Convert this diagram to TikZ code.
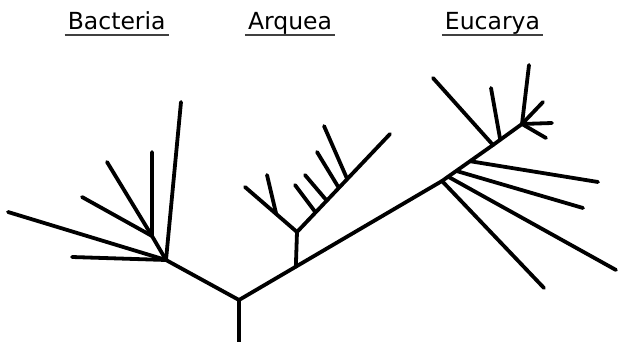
\documentclass[tikz,border=0pt]{standalone}
\usepackage{fontspec}
\setmainfont{DejaVu Sans}
\usetikzlibrary{calc}
\begin{document}
\begin{tikzpicture}[x=1pt,y=-1pt,
  branch/.style={line width=3.8pt,line cap=round,line join=round},
  title/.style={inner sep=0pt,anchor=base,font=\fontsize{23.5}{24}\selectfont},
  uline/.style={line width=2pt,black!75}]
\useasboundingbox (0,0) rectangle (618,342);
% titles
\node[title] (bac) at (116.7,29.5) {Bacteria};
\node[title] (arq) at (290,29.5) {Arquea};
\node[title] (euc) at (492.5,29.5) {Eucarya};
\foreach \n in {bac,arq,euc}
  \draw[uline] ($(\n.base west)+(-3,5.5)$) -- ($(\n.base east)+(3,5.5)$);
% main trunk
\coordinate (r0) at (239,346);
\coordinate (j0) at (239,300);
\coordinate (m1) at (442,181);
\coordinate (m2) at (493,145);
\coordinate (m3) at (522,124);
\draw[branch] (r0) -- (j0) -- (m1) -- (m2) -- (m3);
% Bacteria
\coordinate (b) at (166,260);
\coordinate (b1) at (181,102);
\coordinate (b2) at (72,257);
\coordinate (b3) at (8,212);
\coordinate (s) at (152,236);
\coordinate (s1) at (152,152);
\coordinate (s2) at (107,162);
\coordinate (s3) at (82,197);
\draw[branch] (j0) -- (b) -- (b1);
\draw[branch] (b) -- (b2);
\draw[branch] (b) -- (b3);
\draw[branch] (b) -- (s) -- (s1);
\draw[branch] (s) -- (s2);
\draw[branch] (s) -- (s3);
% Arquea
\coordinate (a0) at ($(j0)!0.28!(m1)$);
\coordinate (aj) at (297,232);
\coordinate (al) at (245,187);
\coordinate (ar) at (390,134);
\coordinate (alf) at ($(aj)!0.4!(al)$);
\coordinate (alt) at (267,175);
\draw[branch] (a0) -- (aj) -- (al);
\draw[branch] (aj) -- (ar);
\draw[branch] (alf) -- (alt);
\coordinate (ar1) at ($(aj)!0.2!(ar)$);
\coordinate (ar2) at ($(aj)!0.32!(ar)$);
\coordinate (ar3) at ($(aj)!0.45!(ar)$);
\coordinate (ar4) at ($(aj)!0.54!(ar)$);
\coordinate (at1) at (295,185);
\coordinate (at2) at (305,175);
\coordinate (at3) at (317,152);
\coordinate (at4) at (324,126);
\draw[branch] (ar1) -- (at1);
\draw[branch] (ar2) -- (at2);
\draw[branch] (ar3) -- (at3);
\draw[branch] (ar4) -- (at4);
% Eucarya
\coordinate (e1) at ($(m1)!0.12!(m2)$);
\coordinate (e2) at ($(m1)!0.28!(m2)$);
\coordinate (e3) at ($(m1)!0.55!(m2)$);
\coordinate (e4) at ($(m2)!0.25!(m3)$);
\coordinate (et0) at (544,288);
\coordinate (et1) at (616,270);
\coordinate (et2) at (583,208);
\coordinate (et3) at (598,182);
\coordinate (eu1) at (433,78);
\coordinate (eu2) at (491,88);
\coordinate (ef1) at (529,65);
\coordinate (ef2) at (543,102);
\coordinate (ef3) at (552,123);
\coordinate (ef4) at (546,138);
\draw[branch] (m1) -- (et0);
\draw[branch] (e1) -- (et1);
\draw[branch] (e2) -- (et2);
\draw[branch] (e3) -- (et3);
\draw[branch] (m2) -- (eu1);
\draw[branch] (e4) -- (eu2);
\draw[branch] (m3) -- (ef1);
\draw[branch] (m3) -- (ef2);
\draw[branch] (m3) -- (ef3);
\draw[branch] (m3) -- (ef4);
\end{tikzpicture}
\end{document}
